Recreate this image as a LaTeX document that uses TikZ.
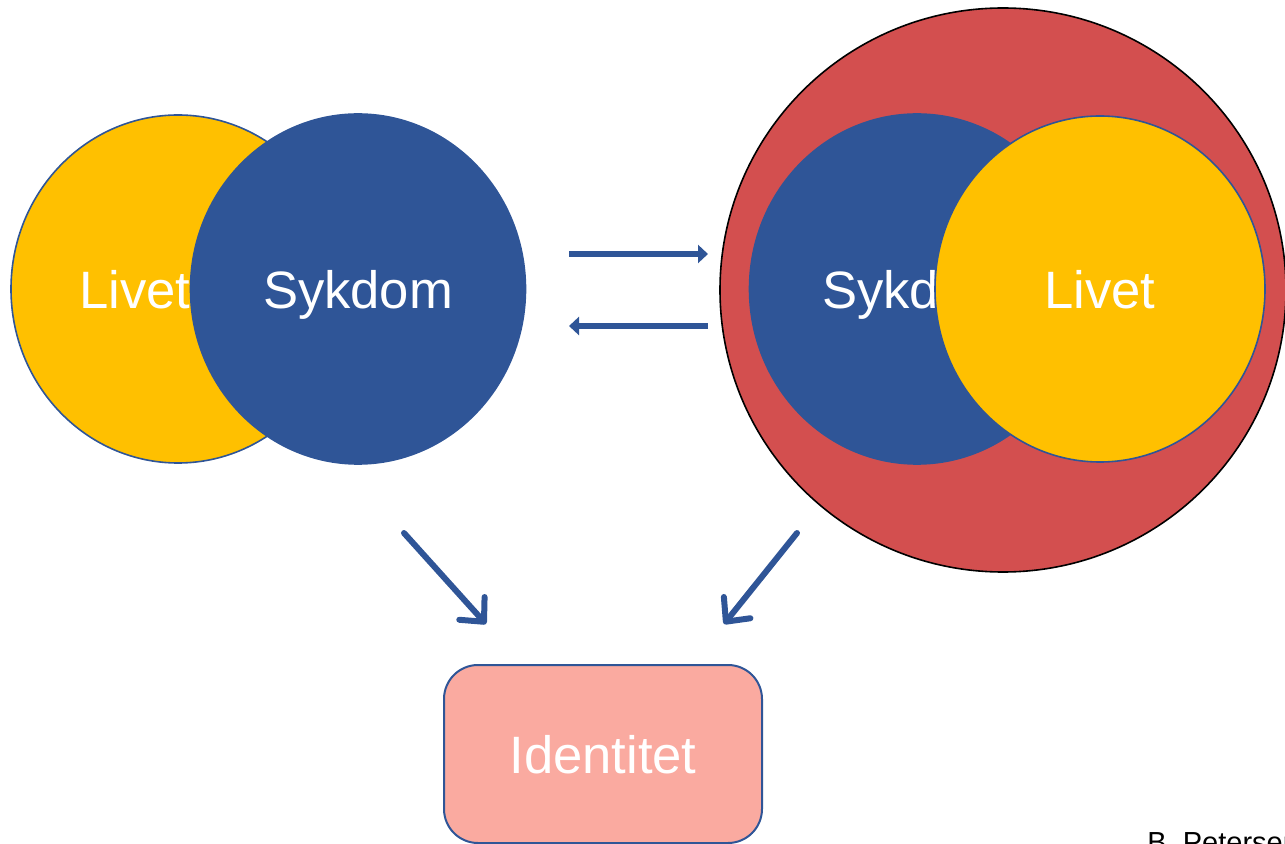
\documentclass[tikz,border=0pt]{standalone}
\usepackage{fontspec}
\setmainfont{Liberation Sans}
\usetikzlibrary{shapes.geometric,arrows.meta}
\definecolor{lifeyellow}{HTML}{FFC000}
\definecolor{illblue}{HTML}{2F5597}
\definecolor{wholered}{HTML}{D34F4F}
\definecolor{idpink}{HTML}{FAAAA0}
\tikzset{
  bigtext/.style={text=white, text depth=0pt, font=\fontsize{26.3}{30}\selectfont},
  blob/.style={ellipse, inner sep=0pt, draw=illblue, line width=0.8pt, bigtext},
  lifeblob/.style={blob, fill=lifeyellow, minimum width=167pt, minimum height=174pt},
  illblob/.style={blob, fill=illblue, minimum width=167.5pt, minimum height=175pt},
  swap/.style={draw=illblue, line width=3.2pt, -{Triangle[length=5pt, width=9pt]}, shorten >=-1pt},
  leadto/.style={draw=illblue, line width=3pt, line cap=round,
    -{Straight Barb[length=9pt, width=17pt, line cap=round, line join=round]}},
}
\begin{document}
\begin{tikzpicture}[x=0.5pt, y=-0.5pt]
\useasboundingbox (0,0) rectangle (1285,844);

% left: illness beside life
\node[lifeblob, label={[bigtext, xshift=-21.5pt]center:Livet}] (liv1) at (178,289) {};
\node[illblob] (syk1) at (358,289) {Sykdom};

% right: life inside the whole
\node[ellipse, draw=black, line width=0.8pt, fill=wholered, minimum width=283pt, minimum height=282pt] (whole) at (1003,290) {};
\node[illblob] (syk2) at (917,289) {Sykdom};
\node[lifeblob, minimum width=165pt, minimum height=173pt] (liv2) at (1100,289) {Livet};

% identity
\node[rectangle, rounded corners=17pt, draw=illblue, line width=1pt, fill=idpink,
  minimum width=159pt, minimum height=89pt, bigtext] (id) at (603,754) {Identitet};

\node[anchor=north west, inner sep=0pt, font=\fontsize{14.5}{16}\selectfont] (name) at (1147,832) {B. Petersen};

% connectors
\coordinate (goR) at (569,254);
\coordinate (goRend) at (706,254);
\coordinate (goL) at (708,326);
\coordinate (goLend) at (571,326);
\draw[swap] (goR) -- (goRend);
\draw[swap] (goL) -- (goLend);

\coordinate (fromL) at (404,533);
\coordinate (toL) at (486,624);
\coordinate (fromR) at (797,533);
\coordinate (toR) at (724,624);
\draw[leadto] (fromL) -- (toL);
\draw[leadto] (fromR) -- (toR);
%
\end{tikzpicture}
\end{document}
